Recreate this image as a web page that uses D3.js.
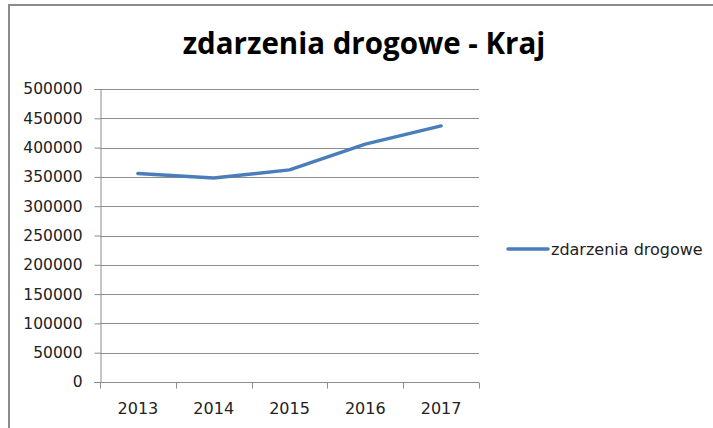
<!DOCTYPE html>
<html>
<head>
<meta charset="utf-8">
<script src="https://cdn.jsdelivr.net/npm/d3@7"></script>
<style>
  body { margin: 0; background: #fff; }
  text { font-family: "DejaVu Sans", sans-serif; fill: #222; }
</style>
</head>
<body>
<svg id="chart"></svg>
<script>
// data
var vYears = ['2013', '2014', '2015', '2016', '2017'];
var vValues = [356000, 348000, 362000, 406000, 437000];
var vTicks = [0, 50000, 100000, 150000, 200000, 250000, 300000, 350000, 400000, 450000, 500000];
var vTitle = 'zdarzenia drogowe - Kraj';
var vSeries = 'zdarzenia drogowe';

var vWidth = 713;
var vHeight = 428;
var vPlot = {left: 100, right: 479, top: 89, bottom: 382};

var svg = d3.select('#chart')
    .attr('width', vWidth)
    .attr('height', vHeight);

// chart frame (only top and left edges are visible in the crop)
svg.append('path')
    .attr('d', 'M9,' + vHeight + 'V5H' + vWidth)
    .style('fill', 'none')
    .style('stroke', '#8c8c8c')
    .style('stroke-width', 2);

svg.append('text')
    .attr('x', 364)
    .attr('y', 54)
    .attr('text-anchor', 'middle')
    .style('font-family', '"Open Sans", sans-serif')
    .style('font-weight', 'bold')
    .style('font-size', '29.5px')
    .style('fill', '#000')
    .text(vTitle);

var x = d3.scaleBand()
    .domain(vYears)
    .range([vPlot.left, vPlot.right]);

var y = d3.scaleLinear()
    .domain([0, 500000])
    .range([vPlot.bottom, vPlot.top]);

// gridlines
svg.append('g')
    .selectAll('line')
    .data(vTicks.filter(function (d) { return d > 0; }))
    .enter()
    .append('line')
    .attr('x1', vPlot.left)
    .attr('x2', vPlot.right)
    .attr('y1', function (d) { return Math.round(y(d)) + 0.5; })
    .attr('y2', function (d) { return Math.round(y(d)) + 0.5; })
    .style('stroke', '#8c8c8c')
    .style('stroke-width', 1);

var yAxis = svg.append('g')
    .attr('transform', 'translate(' + (vPlot.left + 0.5) + ',0)')
    .call(d3.axisLeft(y).tickValues(vTicks).tickSize(6).tickPadding(12)
        .tickFormat(d3.format('d')));

var xAxis = svg.append('g')
    .attr('transform', 'translate(0,' + (vPlot.bottom + 0.5) + ')')
    .call(d3.axisBottom(x).tickSize(0).tickPadding(20));

// category boundary ticks
xAxis.selectAll('.bound')
    .data(vYears.concat(['end']))
    .enter()
    .append('line')
    .attr('x1', function (d, i) { return Math.round(vPlot.left + i * x.step()) + 0.5; })
    .attr('x2', function (d, i) { return Math.round(vPlot.left + i * x.step()) + 0.5; })
    .attr('y1', 0)
    .attr('y2', 6)
    .style('stroke', '#8c8c8c');

svg.selectAll('.domain').style('stroke', '#8c8c8c');
svg.selectAll('.tick line').style('stroke', '#8c8c8c');
yAxis.selectAll('.tick text')
    .style('font-size', '15.5px')
    .style('fill', '#222');
xAxis.selectAll('.tick text')
    .style('font-size', '16px')
    .style('fill', '#222');
xAxis.select('.domain').attr('d', 'M' + (vPlot.left - 6) + ',0H' + vPlot.right);

var vLine = d3.line()
    .x(function (d, i) { return x(vYears[i]) + x.bandwidth() / 2; })
    .y(function (d) { return y(d); });

svg.append('path')
    .datum(vValues)
    .attr('d', vLine)
    .style('fill', 'none')
    .style('stroke', '#4a7ebb')
    .style('stroke-width', 3.5)
    .style('stroke-linecap', 'round')
    .style('stroke-linejoin', 'round');

// legend
var legend = svg.append('g').attr('transform', 'translate(508,249)');
legend.append('line')
    .attr('x1', 0).attr('x2', 40)
    .style('stroke', '#4a7ebb')
    .style('stroke-width', 3.5)
    .style('stroke-linecap', 'round');
legend.append('text')
    .attr('x', 43)
    .attr('y', 5.5)
    .style('font-size', '16px')
    .text(vSeries);
</script>
</body>
</html>
